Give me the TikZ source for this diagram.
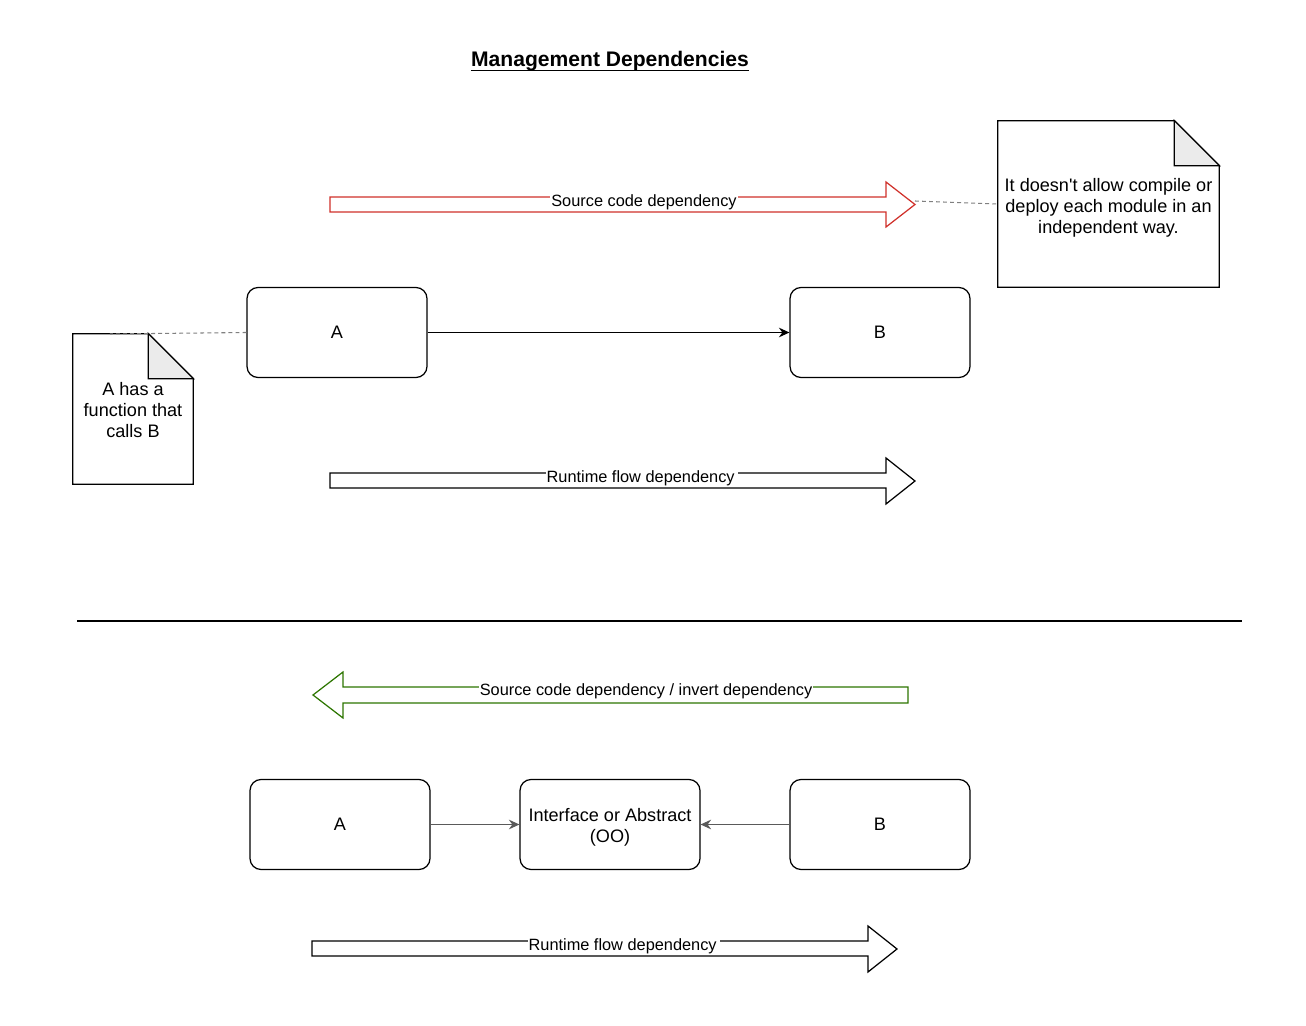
\documentclass[tikz,border=0pt]{standalone}
\usepackage{fontspec}
\setmainfont{Liberation Sans}
\usetikzlibrary{arrows.meta}
\definecolor{srcred}{HTML}{D0302A}
\definecolor{invgreen}{HTML}{2D7600}
\definecolor{foldgray}{HTML}{EBEBEB}
\definecolor{linkgray}{HTML}{5A5A5A}
\tikzset{
  module/.style={draw, rounded corners=0.22cm, minimum width=3.6cm, minimum height=1.8cm, line width=0.7pt, align=center, font=\fontsize{10.3}{11.9}\selectfont},
  memo/.style={inner sep=0pt, align=center, font=\fontsize{10.3}{11.9}\selectfont},
  lbl/.style={fill=white, inner sep=0.6pt, anchor=base},
  call/.style={-{Stealth[length=6pt,width=5.5pt,inset=2pt]}, line width=0.7pt},
  link/.style={draw=gray, line width=0.6pt, dash pattern=on 2.2pt off 1.8pt},
  flow/.style={line width=0.7pt, line join=miter},
}
\begin{document}
\begin{tikzpicture}[x=0.02cm, y=-0.02cm, font=\fontsize{9.3}{11.9}\selectfont]
\fill[white] (0,0) rectangle (1306,1026);
\node[inner sep=0pt, anchor=base] (title) at (610,66.5) {\fontsize{12}{14}\selectfont\bfseries Management Dependencies};
\draw[line width=0.8pt] ([yshift=-2.2pt]title.base west) -- ([yshift=-2.2pt]title.base east);

\draw[flow, srcred] (330,197) -- (886,197) -- (886,182) -- (915,204.5) -- (886,227) -- (886,212) -- (330,212) -- cycle;
\node[lbl] (srclbl) at (644,206.6) {Source code dependency};
\coordinate (redtip) at (915,201);

\node[memo, minimum width=4.42cm, minimum height=3.32cm] (nr) at (1108.5,204) {};
\node[memo] (nrtext) at ([yshift=-0.08cm]nr.center) {It doesn\textquotesingle t allow compile or\\deploy each module in an\\independent way.};
\draw[flow] (nr.north west) -- ([xshift=-0.9cm]nr.north east) -- ([yshift=-0.9cm]nr.north east) -- (nr.south east) -- (nr.south west) -- cycle;
\filldraw[flow, fill=foldgray] ([xshift=-0.9cm]nr.north east) -- ([yshift=-0.9cm]nr.north east) -- ([xshift=-0.9cm,yshift=-0.9cm]nr.north east) -- cycle;
\draw[link] (redtip) -- (nr.west);

\node[module] (a1) at (337,332.5) {A};
\node[module] (b1) at (880,332.5) {B};
\draw[call] (a1) -- (b1);

\node[memo, minimum width=2.4cm, minimum height=3cm] (nl) at (133,409) {};
\node[memo] (nltext) at ([yshift=-0.02cm]nl.center) {A has a\\function that\\calls B};
\draw[flow] (nl.north west) -- ([xshift=-0.9cm]nl.north east) -- ([yshift=-0.9cm]nl.north east) -- (nl.south east) -- (nl.south west) -- cycle;
\filldraw[flow, fill=foldgray] ([xshift=-0.9cm]nl.north east) -- ([yshift=-0.9cm]nl.north east) -- ([xshift=-0.9cm,yshift=-0.9cm]nl.north east) -- cycle;
\coordinate (nltop) at (110,334);
\draw[link] (a1.west) -- (nltop);

\draw[flow] (330,473) -- (886,473) -- (886,458) -- (915,481) -- (886,504) -- (886,488) -- (330,488) -- cycle;
\node[lbl] (runlbl1) at (642,482.6) {Runtime flow dependency\,};

\draw[line width=0.7pt] (77,621) -- (1242,621);

\draw[flow, invgreen] (908,687) -- (343,687) -- (343,672) -- (313,695) -- (343,718) -- (343,703) -- (908,703) -- cycle;
\node[lbl] (invlbl) at (646,695.6) {Source code dependency / invert dependency};

\node[module] (a2) at (340,824.5) {A};
\node[module] (iface) at (610,824.5) {};
\node[memo] (ifacetext) at ([yshift=-0.06cm]iface.center) {Interface or Abstract\\(OO)};
\node[module] (b2) at (880,824.5) {B};
\draw[call, linkgray] (a2) -- (iface);
\draw[call, linkgray] (b2) -- (iface);

\draw[flow] (312,941) -- (868,941) -- (868,926) -- (897,949) -- (868,972) -- (868,956) -- (312,956) -- cycle;
\node[lbl] (runlbl2) at (624,950.6) {Runtime flow dependency\,};
\end{tikzpicture}
\end{document}
